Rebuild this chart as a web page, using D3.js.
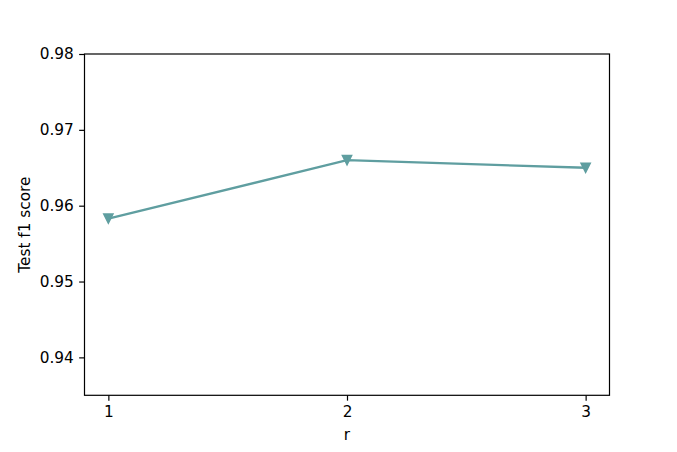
<!DOCTYPE html>
<html>
<head>
<meta charset="utf-8">
<script src="https://cdn.jsdelivr.net/npm/d3@7"></script>
<style>
  body { margin: 0; background: #fff; }
  svg { display: block; }
</style>
</head>
<body>
<div id="chart"></div>
<script>
const rValues = [1, 2, 3];
const f1Scores = [0.9583, 0.9660, 0.9650];
const yTicks = [0.94, 0.95, 0.96, 0.97, 0.98];

const width = 677, height = 452;
const margin = {left: 84.5, right: 67.5, top: 54, bottom: 56.7};
const fontSize = 15.3;
const tickLen = 5.35;
const fontFam = "DejaVu Sans";

const svg = d3.select("#chart").append("svg")
    .attr("width", width)
    .attr("height", height);

const x = d3.scaleLinear()
    .domain([0.9, 3.1])
    .range([margin.left, width - margin.right]);

const y = d3.scaleLinear()
    .domain([0.935, 0.98])
    .range([height - margin.bottom, margin.top]);

// axes
const xAxis = svg.append("g")
    .attr("transform", `translate(0,${height - margin.bottom})`)
    .call(d3.axisBottom(x).tickValues(rValues).tickFormat(d3.format("d"))
        .tickSizeOuter(0).tickSize(tickLen).tickPadding(tickLen));

const yAxis = svg.append("g")
    .attr("transform", `translate(${margin.left},0)`)
    .call(d3.axisLeft(y).tickValues(yTicks).tickFormat(d3.format(".2f"))
        .tickSizeOuter(0).tickSize(tickLen).tickPadding(tickLen));

[xAxis, yAxis].forEach(g => {
    g.attr("font-size", fontSize).attr("font-family", fontFam);
    g.selectAll("text").attr("fill", "#000");
    g.selectAll("line").attr("stroke", "#000").attr("stroke-width", 1.2);
    g.select(".domain").remove();
});

// frame
svg.append("rect")
    .attr("x", margin.left)
    .attr("y", margin.top)
    .attr("width", width - margin.left - margin.right)
    .attr("height", height - margin.top - margin.bottom)
    .attr("fill", "none")
    .attr("stroke", "#000")
    .attr("stroke-width", 1.2);

// line
const line = d3.line()
    .x((d, i) => x(rValues[i]))
    .y(d => y(d));

svg.append("path")
    .datum(f1Scores)
    .attr("d", line)
    .attr("fill", "none")
    .attr("stroke", "cadetblue")
    .attr("stroke-width", 2.3);

// matplotlib-style 'v' marker (width == height == size)
const triangleDown = {
    draw(ctx, size) {
        const h = size / 2;
        ctx.moveTo(0, h);
        ctx.lineTo(-h, -h);
        ctx.lineTo(h, -h);
        ctx.closePath();
    }
};

svg.selectAll(".marker")
    .data(f1Scores)
    .join("path")
    .attr("class", "marker")
    .attr("d", d3.symbol().type(triangleDown).size(9.2))
    .attr("transform", (d, i) => `translate(${x(rValues[i])},${y(d)})`)
    .attr("fill", "cadetblue")
    .attr("stroke", "cadetblue")
    .attr("stroke-width", 1.5)
    .attr("stroke-linejoin", "miter");

// labels
svg.append("text")
    .attr("x", (margin.left + width - margin.right) / 2)
    .attr("y", 440)
    .attr("text-anchor", "middle")
    .attr("font-size", fontSize)
    .attr("font-family", fontFam)
    .text("r");

svg.append("text")
    .attr("transform", `translate(29.5,${(margin.top + height - margin.bottom) / 2}) rotate(-90)`)
    .attr("text-anchor", "middle")
    .attr("font-size", fontSize)
    .attr("font-family", fontFam)
    .text("Test f1 score");
</script>
</body>
</html>
